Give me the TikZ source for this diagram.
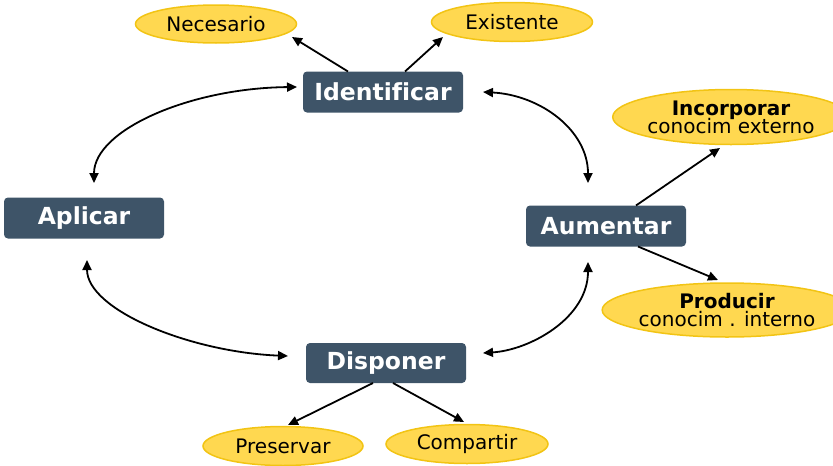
\documentclass[tikz,border=0pt]{standalone}
\usepackage{fontspec}
\setmainfont[Ligatures=NoCommon]{DejaVu Sans}
\usetikzlibrary{shapes.geometric,arrows.meta,calc}
\definecolor{boxc}{RGB}{62,84,104}
\definecolor{ellf}{RGB}{255,216,80}
\definecolor{elld}{RGB}{242,196,20}
\tikzset{
  stepbox/.style={rectangle,rounded corners=4pt,fill=boxc,text=white,
    minimum width=160pt,minimum height=41pt,inner sep=0pt,
    font=\fontsize{23.5}{25}\selectfont\bfseries},
  leaf/.style={ellipse,fill=ellf,draw=elld,line width=1.5pt,inner sep=0pt,
    font=\fontsize{20}{20}\selectfont,align=center},
  arr/.style={line width=1.8pt,-{Triangle[length=10pt,width=9pt]}},
  darr/.style={line width=1.8pt,{Triangle[length=10pt,width=9pt]}-{Triangle[length=10pt,width=9pt]}}
}
\begin{document}
\begin{tikzpicture}[x=1pt,y=-1pt]
\useasboundingbox (0,0) rectangle (833,466);
\node[stepbox] (idf) at (383,92) {Identificar};
\node[stepbox] (apl) at (84,218) {Aplicar};
\node[stepbox] (aum) at (606,226) {Aumentar};
\node[stepbox,minimum height=40pt] (dis) at (386,363) {Disponer};
\node[leaf,minimum width=161pt,minimum height=38pt] (nec) at (216,24) {Necesario};
\node[leaf,minimum width=161pt,minimum height=39pt] (exi) at (512,22) {Existente};
\node[leaf,minimum width=201pt,minimum height=55pt] (inc) at (731,117)
  {\textbf{Incorporar}\\[-2pt]conocim externo};
\node[leaf,minimum width=211pt,minimum height=54pt] (pro) at (727,310)
  {\textbf{Producir}\\[-2pt]conocim . interno};
\node[leaf,minimum width=160pt,minimum height=39pt] (pre) at (283,446) {Preservar};
\node[leaf,minimum width=162pt,minimum height=39pt] (com) at (467,444) {Compartir};
% straight arrows
\draw[arr] ($(idf)+(-35,-20.5)$) -- ($(nec)+(76,13)$);
\draw[arr] ($(idf)+(22,-20.5)$) -- ($(exi)+(-69,15)$);
\draw[arr] ($(aum)+(30,-20.5)$) -- ($(inc)+(-11,31)$);
\draw[arr] ($(aum)+(32,20.5)$) -- ($(pro)+(-9,-30)$);
\draw[arr] ($(dis)+(-13,20)$) -- ($(pre)+(5,-21)$);
\draw[arr] ($(dis)+(7,20)$) -- ($(com)+(-3,-22)$);
% curved double arrows
\draw[darr] ($(idf)+(-86,-5)$) .. controls (190,88) and (94,130) .. ($(apl)+(10,-35)$);
\draw[darr] ($(idf)+(100,0)$) .. controls (540,95) and (588,130) .. ($(aum)+(-18,-43)$);
\draw[darr] ($(apl)+(3,42)$) .. controls (87,310) and (190,352) .. ($(dis)+(-98,-7)$);
\draw[darr] ($(aum)+(-18,36)$) .. controls (588,318) and (530,350) .. ($(dis)+(97,-10)$);
\end{tikzpicture}
\end{document}
